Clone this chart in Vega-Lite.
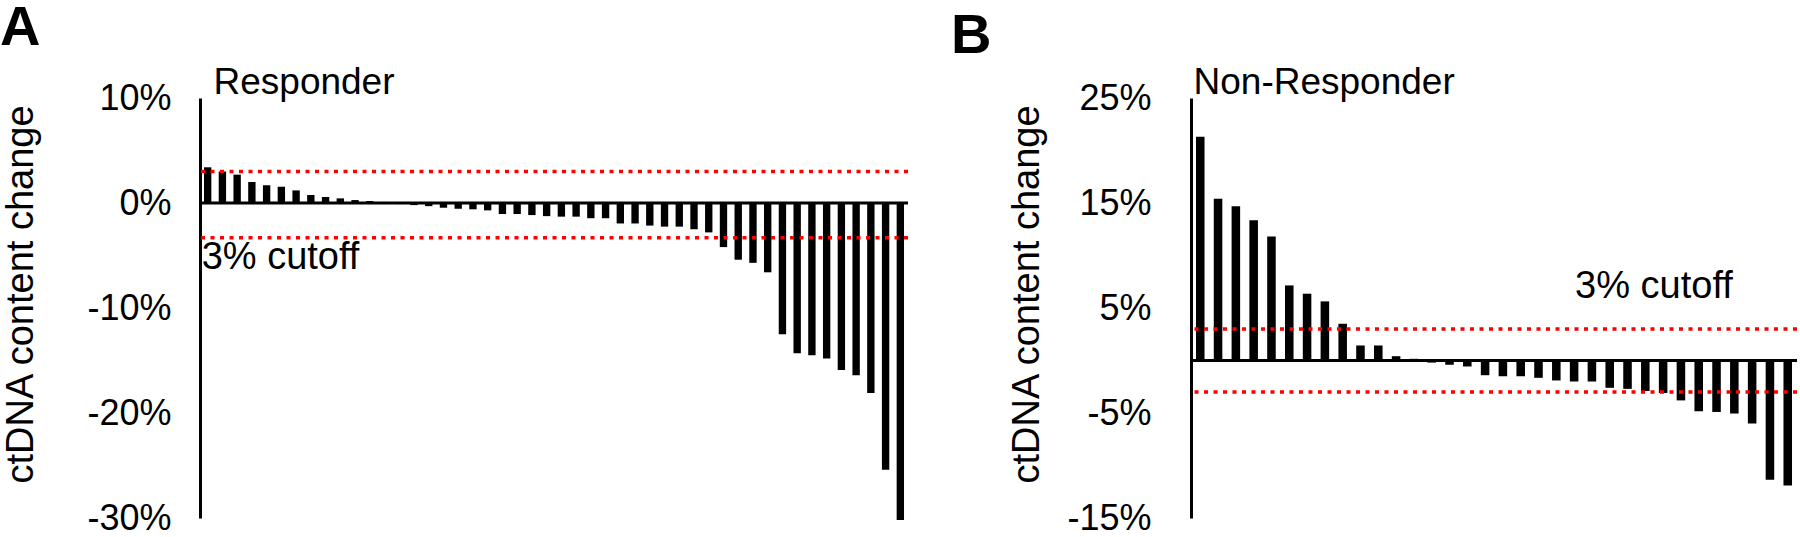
{
  "$schema": "https://vega.github.io/schema/vega-lite/v6.json",
  "background": "white",
  "padding": {"left": 0, "top": 0, "right": 0, "bottom": 0},
  "spacing": 283,
  "bounds": "flush",
  "config": {
    "view": {"stroke": null},
    "font": "Liberation Sans",
    "title": {"font": "Liberation Sans", "color": "black"},
    "axis": {"labelFont": "Liberation Sans", "titleFont": "Liberation Sans", "labelColor": "black", "titleColor": "black"}
  },
  "hconcat": [
    {
      "width": 708,
      "height": 420,
      "title": {"text": "A", "anchor": "start", "frame": "group", "fontSize": 56, "fontWeight": "bold", "dx": -200, "dy": 4, "offset": 10},
      "layer": [
        {
          "data": {"values": [
            {"id": "P01", "change": 0.034}, {"id": "P02", "change": 0.030}, {"id": "P03", "change": 0.027}, {"id": "P04", "change": 0.020},
            {"id": "P05", "change": 0.017}, {"id": "P06", "change": 0.0155}, {"id": "P07", "change": 0.012}, {"id": "P08", "change": 0.0076},
            {"id": "P09", "change": 0.0057}, {"id": "P10", "change": 0.0044}, {"id": "P11", "change": 0.0028}, {"id": "P12", "change": 0.0019},
            {"id": "P13", "change": 0.001}, {"id": "P14", "change": -0.001}, {"id": "P15", "change": -0.002}, {"id": "P16", "change": -0.003},
            {"id": "P17", "change": -0.0045}, {"id": "P18", "change": -0.0055}, {"id": "P19", "change": -0.006}, {"id": "P20", "change": -0.007},
            {"id": "P21", "change": -0.0105}, {"id": "P22", "change": -0.0105}, {"id": "P23", "change": -0.0115}, {"id": "P24", "change": -0.0125},
            {"id": "P25", "change": -0.013}, {"id": "P26", "change": -0.013}, {"id": "P27", "change": -0.0145}, {"id": "P28", "change": -0.0145},
            {"id": "P29", "change": -0.0195}, {"id": "P30", "change": -0.0195}, {"id": "P31", "change": -0.0215}, {"id": "P32", "change": -0.0225},
            {"id": "P33", "change": -0.0225}, {"id": "P34", "change": -0.025}, {"id": "P35", "change": -0.028}, {"id": "P36", "change": -0.042},
            {"id": "P37", "change": -0.054}, {"id": "P38", "change": -0.057}, {"id": "P39", "change": -0.066}, {"id": "P40", "change": -0.125},
            {"id": "P41", "change": -0.143}, {"id": "P42", "change": -0.145}, {"id": "P43", "change": -0.148}, {"id": "P44", "change": -0.159},
            {"id": "P45", "change": -0.164}, {"id": "P46", "change": -0.181}, {"id": "P47", "change": -0.254}, {"id": "P48", "change": -0.302}
          ]},
          "mark": {"type": "bar", "color": "black"},
          "encoding": {
            "x": {"field": "id", "type": "ordinal", "sort": null,
                  "scale": {"paddingInner": 0.5, "paddingOuter": 0.27},
                  "axis": {"orient": "top", "title": "Responder", "labels": false, "ticks": false, "domain": false,
                           "titleAnchor": "start", "titleAlign": "left", "titleBaseline": "alphabetic",
                           "titleX": 13, "titleY": -5, "titleFontSize": 37, "titleFontWeight": "normal"}},
            "y": {"field": "change", "type": "quantitative",
                  "scale": {"domain": [-0.3, 0.1], "nice": false, "zero": false},
                  "axis": {"title": "ctDNA content change", "values": [0.1, 0, -0.1, -0.2, -0.3],
                           "labelExpr": "replace(format(datum.value,'.0%'),'\u2212','-')",
                           "grid": false, "ticks": false, "tickSize": 0, "labelPadding": 29,
                           "labelFontSize": 36, "labelFlush": false, "labelBound": false, "labelOverlap": false,
                           "titleFontSize": 38, "titleFontWeight": "normal", "titlePadding": 46, "titleY": 196,
                           "domainColor": "black", "domainWidth": 3}}
          }
        },
        {
          "data": {"values": [{"change": 0}]},
          "mark": {"type": "rule", "color": "black", "strokeWidth": 3},
          "encoding": {"y": {"field": "change", "type": "quantitative"}}
        },
        {
          "data": {"values": [{"change": 0.03}, {"change": -0.033}]},
          "mark": {"type": "rule", "color": "#FF0000", "strokeWidth": 3.5, "strokeDash": [4, 5.5]},
          "encoding": {"y": {"field": "change", "type": "quantitative"}}
        },
        {
          "data": {"values": [{"id": "P01", "change": -0.0625, "label": "3% cutoff"}]},
          "mark": {"type": "text", "align": "left", "baseline": "alphabetic", "fontSize": 38, "dx": -6, "color": "black"},
          "encoding": {
            "x": {"field": "id", "type": "ordinal", "sort": null},
            "y": {"field": "change", "type": "quantitative"},
            "text": {"field": "label"}
          }
        }
      ]
    },
    {
      "width": 606,
      "height": 420,
      "title": {"text": "B", "anchor": "start", "frame": "group", "fontSize": 56, "fontWeight": "bold", "dx": -240, "dy": 12, "offset": 10},
      "layer": [
        {
          "data": {"values": [
            {"id": "Q01", "change": 0.213}, {"id": "Q02", "change": 0.154}, {"id": "Q03", "change": 0.147}, {"id": "Q04", "change": 0.1335},
            {"id": "Q05", "change": 0.118}, {"id": "Q06", "change": 0.0715}, {"id": "Q07", "change": 0.0636}, {"id": "Q08", "change": 0.0563},
            {"id": "Q09", "change": 0.035}, {"id": "Q10", "change": 0.0143}, {"id": "Q11", "change": 0.0143}, {"id": "Q12", "change": 0.0041},
            {"id": "Q13", "change": 0.0016}, {"id": "Q14", "change": -0.002}, {"id": "Q15", "change": -0.0041}, {"id": "Q16", "change": -0.0057},
            {"id": "Q17", "change": -0.014}, {"id": "Q18", "change": -0.015}, {"id": "Q19", "change": -0.015}, {"id": "Q20", "change": -0.0165},
            {"id": "Q21", "change": -0.019}, {"id": "Q22", "change": -0.020}, {"id": "Q23", "change": -0.020}, {"id": "Q24", "change": -0.026},
            {"id": "Q25", "change": -0.027}, {"id": "Q26", "change": -0.029}, {"id": "Q27", "change": -0.031}, {"id": "Q28", "change": -0.038},
            {"id": "Q29", "change": -0.0483}, {"id": "Q30", "change": -0.049}, {"id": "Q31", "change": -0.0505}, {"id": "Q32", "change": -0.060},
            {"id": "Q33", "change": -0.1135}, {"id": "Q34", "change": -0.119}
          ]},
          "mark": {"type": "bar", "color": "black"},
          "encoding": {
            "x": {"field": "id", "type": "ordinal", "sort": null,
                  "scale": {"paddingInner": 0.52, "paddingOuter": 0.28},
                  "axis": {"orient": "top", "title": "Non-Responder", "labels": false, "ticks": false, "domain": false,
                           "titleAnchor": "start", "titleAlign": "left", "titleBaseline": "alphabetic",
                           "titleX": 2, "titleY": -5, "titleFontSize": 37, "titleFontWeight": "normal"}},
            "y": {"field": "change", "type": "quantitative",
                  "scale": {"domain": [-0.15, 0.25], "nice": false, "zero": false},
                  "axis": {"title": "ctDNA content change", "values": [0.25, 0.15, 0.05, -0.05, -0.15],
                           "labelExpr": "replace(format(datum.value,'.0%'),'\u2212','-')",
                           "grid": false, "ticks": false, "tickSize": 0, "labelPadding": 40,
                           "labelFontSize": 36, "labelFlush": false, "labelBound": false, "labelOverlap": false,
                           "titleFontSize": 38, "titleFontWeight": "normal", "titlePadding": 20, "titleY": 196,
                           "domainColor": "black", "domainWidth": 3}}
          }
        },
        {
          "data": {"values": [{"change": 0}]},
          "mark": {"type": "rule", "color": "black", "strokeWidth": 3},
          "encoding": {"y": {"field": "change", "type": "quantitative"}}
        },
        {
          "data": {"values": [{"change": 0.03}, {"change": -0.03}]},
          "mark": {"type": "rule", "color": "#FF0000", "strokeWidth": 3.5, "strokeDash": [4, 5.5]},
          "encoding": {"y": {"field": "change", "type": "quantitative"}}
        },
        {
          "data": {"values": [{"id": "Q22", "change": 0.06, "label": "3% cutoff"}]},
          "mark": {"type": "text", "align": "left", "baseline": "alphabetic", "fontSize": 38, "dx": 1, "color": "black"},
          "encoding": {
            "x": {"field": "id", "type": "ordinal", "sort": null},
            "y": {"field": "change", "type": "quantitative"},
            "text": {"field": "label"}
          }
        }
      ]
    }
  ]
}
